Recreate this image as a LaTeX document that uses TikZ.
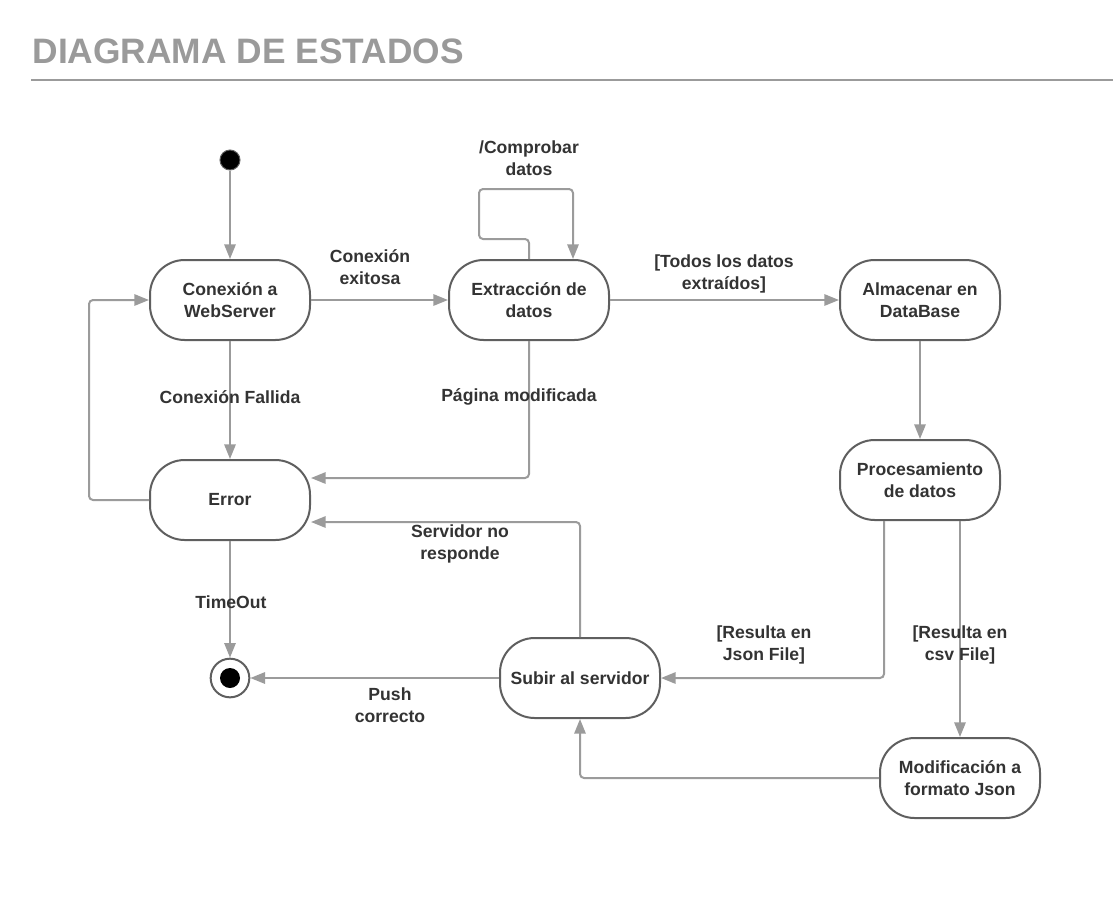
\documentclass[tikz,border=0pt]{standalone}
\usepackage{fontspec}
\setsansfont{Liberation Sans}
\usetikzlibrary{arrows.meta}

\definecolor{lineGray}{HTML}{9B9B9B}
\definecolor{boxGray}{HTML}{5F5F5F}
\definecolor{textGray}{HTML}{333333}
\definecolor{titleGray}{HTML}{9A9A9A}

\tikzset{every picture/.style={line width=0.75pt}}
\tikzset{
  state/.style={draw=boxGray, line width=1.5pt, fill=white, rounded corners=26pt,
    minimum width=120pt, minimum height=60pt, align=center, text=textGray,
    font=\sffamily\bfseries\fontsize{13.2}{16.5}\selectfont},
  lbl/.style={align=center, inner sep=0pt, text=textGray,
    font=\sffamily\bfseries\fontsize{13.2}{16.5}\selectfont},
  trans/.style={draw=lineGray, line width=1.5pt, rounded corners=3pt,
    -{Triangle[length=11pt,width=8.5pt]}}
}

\begin{document}
\begin{tikzpicture}[x=0.75pt,y=0.75pt,yscale=-1,xscale=1]
\useasboundingbox (0,0) rectangle (1113,900);

% Title
\node [anchor=west, inner sep=0pt, text=titleGray, font=\sffamily\bfseries\fontsize{26.5}{30}\selectfont] (title) at (32,51) {DIAGRAMA DE ESTADOS};
\draw [draw=lineGray, line width=1.5pt] (31,80) -- (1113,80);

% States
\node [circle, fill=black, draw=boxGray, line width=0.75pt, minimum size=15pt, inner sep=0pt] (ini) at (230,160) {};
\node [state] (con) at (230,300) {Conexión a\\WebServer};
\node [state] (ext) at (529,300) {Extracción de\\datos};
\node [state] (alm) at (920,300) {Almacenar en\\DataBase};
\node [state] (proc) at (920,480) {Procesamiento\\de datos};
\node [state] (err) at (230,500) {Error};
\node [state] (sub) at (580,678) {Subir al servidor};
\node [state] (mod) at (960,778) {Modificación a\\formato Json};
\node [circle, draw=boxGray, line width=1.5pt, fill=white, minimum size=29pt, inner sep=0pt] (fin) at (230,678) {};
\node [circle, fill=black, minimum size=15pt, inner sep=0pt] (finDot) at (fin.center) {};

% Transitions
\draw [trans] (ini) -- (con);
\draw [trans] (con) -- (ext);
\draw [trans] (ext) -- (alm);
\draw [trans] (ext.north) -- ++(0,-20) -- ++(-50,0) -- ++(0,-50) -- ++(94,0) -- ++(0,70);
\draw [trans] (con) -- (err);
\draw [trans] (ext.south) |- ([yshift=-16.5pt]err.east);
\draw [trans] (err.west) -- ++(-60,0) |- (con.west);
\draw [trans] (err) -- (fin);
\draw [trans] (alm) -- (proc);
\draw [trans] ([xshift=-27pt]proc.south) |- (sub.east);
\draw [trans] (mod.north |- proc.south) -- (mod.north);
\draw [trans] (mod.west) -| (sub.south);
\draw [trans] (sub.north) |- ([yshift=16.5pt]err.east);
\draw [trans] (sub) -- (fin);

% Text Node
\node [lbl] (lblExitosa) at (370,267) {Conexión\\exitosa};
\node [lbl] (lblTodos) at (724,274) {[Todos los datos\\extraídos]};
\node [lbl] (lblComprobar) at (529,158) {/Comprobar\\datos};
\node [lbl] (lblFallida) at (230,397) {Conexión Fallida};
\node [lbl] (lblPagina) at (519,397) {Página modificada};
\node [lbl] (lblTimeOut) at (231,602) {TimeOut};
\node [lbl] (lblServidor) at (460,544) {Servidor no\\responde};
\node [lbl] (lblJson) at (764,645) {[Resulta en\\Json File]};
\node [lbl] (lblCsv) at (960,645) {[Resulta en\\csv File]};
\node [lbl] (lblPush) at (390,705) {Push\\correcto};

\end{tikzpicture}
\end{document}
